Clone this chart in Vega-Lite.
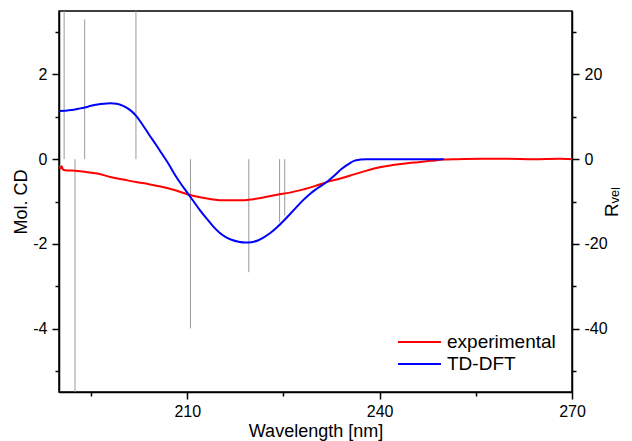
{
  "$schema": "https://vega.github.io/schema/vega-lite/v6.json",
  "width": 513,
  "height": 381,
  "autosize": {"type": "none"},
  "padding": {"left": 59, "top": 11, "right": 60, "bottom": 49},
  "background": "white",
  "config": {
    "view": {"stroke": "black", "strokeWidth": 1.5},
    "font": "Liberation Sans",
    "axis": {
      "grid": false,
      "domainColor": "black",
      "domainWidth": 1.5,
      "tickColor": "black",
      "tickWidth": 1.5,
      "labelColor": "black",
      "labelFont": "Liberation Sans",
      "labelFontSize": 16,
      "labelFlush": false,
      "labelOverlap": false,
      "titleColor": "black",
      "titleFont": "Liberation Sans",
      "titleFontSize": 18,
      "titleFontWeight": "normal"
    }
  },
  "datasets": {
    "curves": [
      {"w": 190.0, "v": -0.15, "s": "experimental"},
      {"w": 190.2, "v": -0.22, "s": "experimental"},
      {"w": 190.4, "v": -0.17, "s": "experimental"},
      {"w": 190.6, "v": -0.24, "s": "experimental"},
      {"w": 191, "v": -0.26, "s": "experimental"},
      {"w": 192, "v": -0.27, "s": "experimental"},
      {"w": 194, "v": -0.3, "s": "experimental"},
      {"w": 196, "v": -0.34, "s": "experimental"},
      {"w": 198, "v": -0.42, "s": "experimental"},
      {"w": 200, "v": -0.48, "s": "experimental"},
      {"w": 202, "v": -0.54, "s": "experimental"},
      {"w": 204, "v": -0.59, "s": "experimental"},
      {"w": 206, "v": -0.65, "s": "experimental"},
      {"w": 208, "v": -0.73, "s": "experimental"},
      {"w": 210, "v": -0.83, "s": "experimental"},
      {"w": 212, "v": -0.9, "s": "experimental"},
      {"w": 214, "v": -0.95, "s": "experimental"},
      {"w": 216, "v": -0.97, "s": "experimental"},
      {"w": 218, "v": -0.97, "s": "experimental"},
      {"w": 220, "v": -0.95, "s": "experimental"},
      {"w": 222, "v": -0.9, "s": "experimental"},
      {"w": 224, "v": -0.84, "s": "experimental"},
      {"w": 226, "v": -0.79, "s": "experimental"},
      {"w": 228, "v": -0.72, "s": "experimental"},
      {"w": 230, "v": -0.63, "s": "experimental"},
      {"w": 232, "v": -0.53, "s": "experimental"},
      {"w": 234, "v": -0.45, "s": "experimental"},
      {"w": 236, "v": -0.36, "s": "experimental"},
      {"w": 238, "v": -0.27, "s": "experimental"},
      {"w": 240, "v": -0.19, "s": "experimental"},
      {"w": 242, "v": -0.14, "s": "experimental"},
      {"w": 244, "v": -0.1, "s": "experimental"},
      {"w": 246, "v": -0.07, "s": "experimental"},
      {"w": 248, "v": -0.04, "s": "experimental"},
      {"w": 250, "v": -0.01, "s": "experimental"},
      {"w": 252, "v": 0.0, "s": "experimental"},
      {"w": 256, "v": 0.01, "s": "experimental"},
      {"w": 260, "v": 0.01, "s": "experimental"},
      {"w": 264, "v": 0.0, "s": "experimental"},
      {"w": 268, "v": 0.01, "s": "experimental"},
      {"w": 270, "v": 0.0, "s": "experimental"},
      {"w": 190, "v": 1.14, "s": "TD-DFT"},
      {"w": 191, "v": 1.145, "s": "TD-DFT"},
      {"w": 192, "v": 1.16, "s": "TD-DFT"},
      {"w": 193, "v": 1.19, "s": "TD-DFT"},
      {"w": 194, "v": 1.22, "s": "TD-DFT"},
      {"w": 195, "v": 1.26, "s": "TD-DFT"},
      {"w": 196, "v": 1.29, "s": "TD-DFT"},
      {"w": 197, "v": 1.31, "s": "TD-DFT"},
      {"w": 198, "v": 1.32, "s": "TD-DFT"},
      {"w": 199, "v": 1.31, "s": "TD-DFT"},
      {"w": 200, "v": 1.26, "s": "TD-DFT"},
      {"w": 201, "v": 1.17, "s": "TD-DFT"},
      {"w": 202, "v": 1.03, "s": "TD-DFT"},
      {"w": 203, "v": 0.82, "s": "TD-DFT"},
      {"w": 204, "v": 0.59, "s": "TD-DFT"},
      {"w": 205, "v": 0.37, "s": "TD-DFT"},
      {"w": 206, "v": 0.14, "s": "TD-DFT"},
      {"w": 207, "v": -0.09, "s": "TD-DFT"},
      {"w": 208, "v": -0.35, "s": "TD-DFT"},
      {"w": 209, "v": -0.58, "s": "TD-DFT"},
      {"w": 210, "v": -0.79, "s": "TD-DFT"},
      {"w": 211, "v": -1.0, "s": "TD-DFT"},
      {"w": 212, "v": -1.21, "s": "TD-DFT"},
      {"w": 213, "v": -1.4, "s": "TD-DFT"},
      {"w": 214, "v": -1.58, "s": "TD-DFT"},
      {"w": 215, "v": -1.73, "s": "TD-DFT"},
      {"w": 216, "v": -1.84, "s": "TD-DFT"},
      {"w": 217, "v": -1.91, "s": "TD-DFT"},
      {"w": 218, "v": -1.95, "s": "TD-DFT"},
      {"w": 219, "v": -1.97, "s": "TD-DFT"},
      {"w": 220, "v": -1.96, "s": "TD-DFT"},
      {"w": 221, "v": -1.92, "s": "TD-DFT"},
      {"w": 222, "v": -1.84, "s": "TD-DFT"},
      {"w": 223, "v": -1.74, "s": "TD-DFT"},
      {"w": 224, "v": -1.61, "s": "TD-DFT"},
      {"w": 225, "v": -1.46, "s": "TD-DFT"},
      {"w": 226, "v": -1.3, "s": "TD-DFT"},
      {"w": 227, "v": -1.14, "s": "TD-DFT"},
      {"w": 228, "v": -0.98, "s": "TD-DFT"},
      {"w": 229, "v": -0.84, "s": "TD-DFT"},
      {"w": 230, "v": -0.72, "s": "TD-DFT"},
      {"w": 231, "v": -0.62, "s": "TD-DFT"},
      {"w": 232, "v": -0.51, "s": "TD-DFT"},
      {"w": 233, "v": -0.38, "s": "TD-DFT"},
      {"w": 234, "v": -0.24, "s": "TD-DFT"},
      {"w": 235, "v": -0.13, "s": "TD-DFT"},
      {"w": 235.5, "v": -0.08, "s": "TD-DFT"},
      {"w": 236, "v": -0.04, "s": "TD-DFT"},
      {"w": 237, "v": -0.01, "s": "TD-DFT"},
      {"w": 238, "v": 0.0, "s": "TD-DFT"},
      {"w": 244, "v": 0.0, "s": "TD-DFT"},
      {"w": 250, "v": 0.0, "s": "TD-DFT"}
    ],
    "sticks": [
      {"w": 190.8, "r": 60},
      {"w": 192.5, "r": -60},
      {"w": 194.0, "r": 33},
      {"w": 202.0, "r": 60},
      {"w": 210.5, "r": -40},
      {"w": 219.6, "r": -26.7},
      {"w": 224.4, "r": -14.9},
      {"w": 225.2, "r": -13.3}
    ]
  },
  "layer": [
    {
      "data": {"name": "sticks"},
      "mark": {"type": "rule", "color": "#9a9a9a", "strokeWidth": 1, "clip": true},
      "encoding": {
        "x": {"field": "w", "type": "quantitative", "scale": {"domain": [190, 270], "nice": false, "zero": false}},
        "y": {
          "field": "r", "type": "quantitative",
          "scale": {"domain": [-55, 35], "nice": false},
          "axis": {
            "orient": "right",
            "title": "Rᵥₑₗ",
            "values": [-50, -40, -30, -20, -10, 0, 10, 20, 30],
            "labelExpr": "datum.value % 20 === 0 ? '' + datum.value : ''",
            "tickSize": {"condition": {"test": "datum.value % 20 !== 0", "value": 4}, "value": 7},
            "labelPadding": 5,
            "titleAngle": 270,
            "titlePadding": 14,
            "titleFontSize": 19
          }
        },
        "y2": {"datum": 0}
      }
    },
    {
      "layer": [
        {
          "mark": {"type": "rule", "color": "black", "strokeWidth": 1.5},
          "encoding": {"y": {"datum": 0}}
        },
        {
          "data": {"name": "curves"},
          "mark": {"type": "line", "strokeWidth": 2, "clip": true, "interpolate": "monotone"},
          "encoding": {
            "x": {
              "field": "w", "type": "quantitative",
              "scale": {"domain": [190, 270], "nice": false, "zero": false},
              "axis": {
                "title": "Wavelength [nm]",
                "values": [195, 210, 225, 240, 255, 270],
                "labelExpr": "datum.value % 30 === 0 ? '' + datum.value : ''",
                "tickSize": {"condition": {"test": "datum.value % 30 !== 0", "value": 4}, "value": 7},
                "labelPadding": 4,
                "titlePadding": 3
              }
            },
            "y": {
              "field": "v", "type": "quantitative",
              "scale": {"domain": [-5.5, 3.5], "nice": false},
              "axis": {
                "orient": "left",
                "title": "Mol. CD",
                "values": [-5, -4, -3, -2, -1, 0, 1, 2, 3],
                "labelExpr": "datum.value % 2 === 0 ? '' + datum.value : ''",
                "tickSize": {"condition": {"test": "datum.value % 2 !== 0", "value": 4}, "value": 7},
                "labelPadding": 5,
                "titlePadding": 2
              }
            },
            "color": {
              "field": "s", "type": "nominal",
              "scale": {"domain": ["experimental", "TD-DFT"], "range": ["#ff0000", "#0000ff"]},
              "legend": {
                "title": null,
                "orient": "none",
                "legendX": 338,
                "legendY": 320,
                "symbolType": "stroke",
                "symbolSize": 1849,
                "symbolStrokeWidth": 2,
                "clipHeight": 22,
                "labelFontSize": 19,
                "labelFont": "Liberation Sans",
                "labelColor": "black",
                "labelOffset": 5,
                "rowPadding": 0
              }
            }
          }
        }
      ]
    }
  ],
  "resolve": {"scale": {"y": "independent"}}
}
